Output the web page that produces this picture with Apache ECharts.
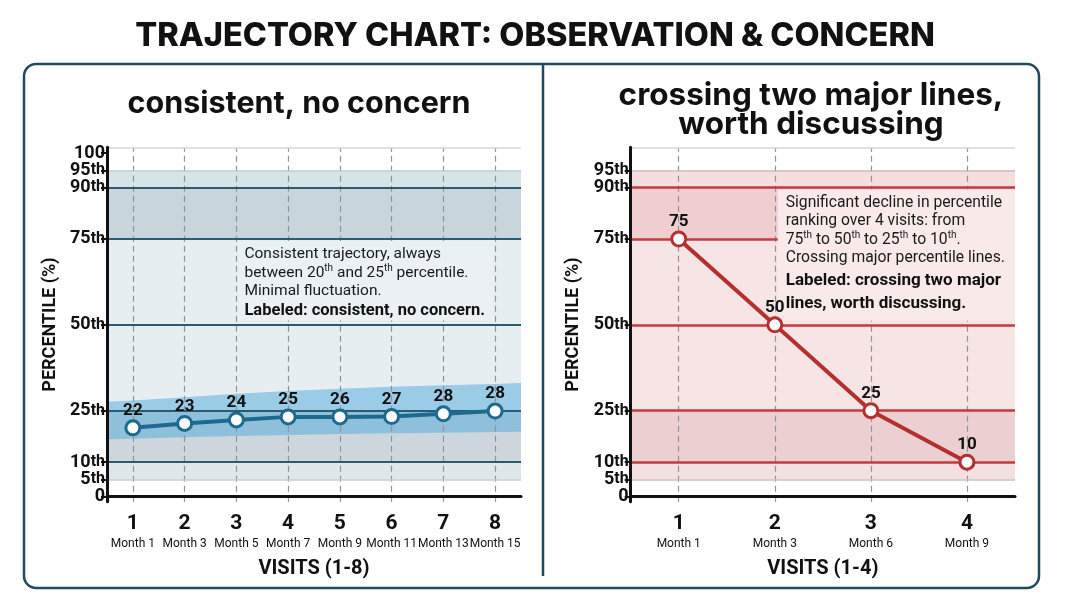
<!DOCTYPE html>
<html><head><meta charset="utf-8">
<script src="https://cdn.jsdelivr.net/npm/echarts@6/dist/echarts.min.js"></script>
<style>html,body{margin:0;padding:0;background:#fff}#c{width:1068px;height:601px}</style>
</head><body><div id="c"></div>
<script>
// ---------- data ----------
const leftVisits = ['1','2','3','4','5','6','7','8'];
const leftMonths = ['Month 1','Month 3','Month 5','Month 7','Month 9','Month 11','Month 13','Month 15'];
const leftValues = [20.0, 21.3, 22.3, 23.2, 23.2, 23.3, 24.1, 24.9];
const leftLabels = ['22','23','24','25','26','27','28','28'];
const bandX = [0.5, 1, 2, 3, 4, 5, 6, 7, 8, 8.5];
const bandUpper = [27.6, 28.0, 28.9, 29.9, 30.7, 31.4, 32.0, 32.4, 32.8, 33.1];
const bandLower = [16.7, 16.8, 17.3, 17.6, 17.9, 18.2, 18.4, 18.6, 18.8, 18.9];

const rightVisits = ['1','2','3','4'];
const rightMonths = ['Month 1','Month 3','Month 6','Month 9'];
const rightValues = [75, 50, 25, 10];
const rightLabels = ['75','50','25','10'];

// y tick labels (split over two overlaid axes so close neighbours are all kept)
const leftYTicksA = [0, 10, 25, 50, 75, 95];
const leftYTicksB = [5, 90, 100];
const rightYTicksA = [0, 10, 25, 50, 75, 95];
const rightYTicksB = [5, 90];
const majorLines = [10, 25, 50, 75, 90];
const minorLines = [5, 95];
const zoneEdges = [5, 10, 25, 75, 90, 95];

const leftNote = [
  ['Consistent trajectory, always'],
  ['between 20', 'th', ' and 25', 'th', ' percentile.'],
  ['Minimal fluctuation.'],
  ['Labeled: consistent, no concern.']
];
const rightNote = [
  ['Significant decline in percentile'],
  ['ranking over 4 visits: from'],
  ['75', 'th', ' to 50', 'th', ' to 25', 'th', ' to 10', 'th', '.'],
  ['Crossing major percentile lines.'],
  ['Labeled: crossing two major'],
  ['lines, worth discussing.']
];

// ---------- styles ----------
const FONT = 'Roboto, "Liberation Sans", sans-serif';
const TFONT = 'Inter, "Open Sans", sans-serif';
const Y_MIN = -1.5, Y_MAX = 101.7;
const leftZoneColors = ['#dfe7eb', '#cdd6dc', '#e7eef2', '#c8d5dc', '#d6e3e7'];
const rightZoneColors = ['#f4e0e0', '#ecd0d1', '#f7e5e5', '#f0cecf', '#f6dede'];

function zones(colors) {
  const out = [];
  for (let i = 0; i < zoneEdges.length - 1; i++) {
    out.push([{ yAxis: zoneEdges[i], itemStyle: { color: colors[i] } }, { yAxis: zoneEdges[i + 1] }]);
  }
  return out;
}
function hLines(majorColor, majorWidth, minorColor) {
  const d = majorLines.map(v => ({ yAxis: v, lineStyle: { color: majorColor, width: majorWidth, type: 'solid' } }));
  minorLines.forEach(v => d.push({ yAxis: v, lineStyle: { color: minorColor, width: 1.5, type: 'solid' } }));
  d.push({ yAxis: Y_MAX, lineStyle: { color: '#d3d8db', width: 1.5, type: 'solid' } });
  return d;
}
function noteText(lines, boldFrom) {
  return lines.map((parts, li) => {
    const b = li >= boldFrom;
    const first = li === boldFrom;
    return parts.map((p, pi) => {
      const sup = pi % 2 === 1;
      const style = sup ? (b ? 'bs' : 's') : (b ? (first ? 'b1' : 'b') : 'r');
      return '{' + style + '|' + p + '}';
    }).join('');
  }).join('\n');
}
function noteRich(size, bsize, lh, b1lh, blh) {
  return {
    r: { fontFamily: FONT, fontSize: size, color: '#1a1a1a', lineHeight: lh },
    s: { fontFamily: FONT, fontSize: 10, color: '#1a1a1a', lineHeight: 11, verticalAlign: 'top' },
    b1: { fontFamily: FONT, fontSize: bsize, fontWeight: 'bold', color: '#111', lineHeight: b1lh },
    b: { fontFamily: FONT, fontSize: bsize, fontWeight: 'bold', color: '#111', lineHeight: blh },
    bs: { fontFamily: FONT, fontSize: 10.5, fontWeight: 'bold', color: '#111', lineHeight: 11, verticalAlign: 'top' }
  };
}
function yAxisCfg(gridIndex, ticks, primary) {
  const cfg = {
    type: 'value', gridIndex, min: Y_MIN, max: Y_MAX, z: 9, position: 'left',
    axisLine: { show: primary, lineStyle: { color: '#111', width: 3 } },
    axisTick: { show: true, customValues: ticks, length: 6, lineStyle: { color: '#111', width: 2 } },
    axisLabel: {
      customValues: ticks, margin: 2, hideOverlap: false,
      formatter: v => (v === 0 || v === 100) ? '{n|' + v + '}' : '{n|' + v + '}{t|th}',
      rich: {
        n: { fontFamily: FONT, fontWeight: 'bold', fontSize: 18, color: '#111', lineHeight: 14 },
        t: { fontFamily: FONT, fontWeight: 'bold', fontSize: 16, color: '#111', lineHeight: 14 }
      }
    },
    splitLine: { show: false }
  };
  if (primary) {
    Object.assign(cfg, {
      name: 'PERCENTILE (%)', nameLocation: 'middle', nameRotate: 90, nameGap: 48,
      nameTextStyle: { fontFamily: FONT, fontWeight: 'bold', fontSize: 18, color: '#111' }
    });
  }
  return cfg;
}
function xAxisCfg(gridIndex, cats, months, name) {
  return {
    type: 'category', gridIndex, data: cats, z: 3,
    name, nameLocation: 'middle', nameGap: 57,
    nameTextStyle: { fontFamily: FONT, fontWeight: 'bold', fontSize: 20, color: '#111' },
    axisLine: { lineStyle: { color: '#111', width: 3 } },
    axisTick: { alignWithLabel: true, length: 8, lineStyle: { color: '#111', width: 2 } },
    axisLabel: {
      margin: 10, interval: 0, hideOverlap: false,
      formatter: (v, i) => '{n|' + v + '}\n{m|' + months[i] + '}',
      rich: {
        n: { fontFamily: FONT, fontWeight: 'bold', fontSize: 21, color: '#111', lineHeight: 24 },
        m: { fontFamily: FONT, fontSize: 12, color: '#111', lineHeight: 16 }
      }
    },
    splitLine: { show: false }
  };
}
function vGrid(cats) {
  return {
    silent: true, symbol: ['none', 'none'], z: 3, label: { show: false },
    lineStyle: { color: '#8e9599', type: [6, 4], width: 1.2 },
    data: cats.map(c => ({ xAxis: c }))
  };
}
function lineSeries(xi, yi, values, labels, color) {
  return {
    type: 'line', xAxisIndex: xi, yAxisIndex: yi, data: values, z: 10,
    symbol: 'circle', symbolSize: 14,
    lineStyle: { color, width: 4 },
    itemStyle: { color: '#fff', borderColor: color, borderWidth: 3 },
    label: {
      show: true, position: 'top', distance: 0,
      formatter: p => labels[p.dataIndex],
      fontFamily: FONT, fontWeight: 'bold', fontSize: 17, color: '#111'
    }
  };
}

const option = {
  animation: false,
  backgroundColor: '#fff',
  grid: [
    { left: 107, right: 547, top: 147.3, bottom: 99.3 },
    { left: 630.7, right: 53, top: 147.3, bottom: 99.3 }
  ],
  xAxis: [
    xAxisCfg(0, leftVisits, leftMonths, 'VISITS (1-8)'),
    xAxisCfg(1, rightVisits, rightMonths, 'VISITS (1-4)'),
    { type: 'value', gridIndex: 0, min: 0.5, max: leftVisits.length + 0.5, show: false },
    { type: 'value', gridIndex: 1, min: 0.5, max: rightVisits.length + 0.5, show: false }
  ],
  yAxis: [
    yAxisCfg(0, leftYTicksA, true),
    yAxisCfg(1, rightYTicksA, true),
    yAxisCfg(0, leftYTicksB, false),
    yAxisCfg(1, rightYTicksB, false)
  ],
  series: [
    // left background zones + percentile lines
    {
      type: 'line', xAxisIndex: 2, yAxisIndex: 0, data: [], silent: true,
      markArea: { silent: true, z: 1, label: { show: false }, data: zones(leftZoneColors) },
      markLine: { silent: true, symbol: ['none', 'none'], z: 5, label: { show: false }, data: hLines('#2a5b70', 2, '#c3ced3') }
    },
    // left percentile channel around the trajectory
    {
      type: 'custom', xAxisIndex: 2, yAxisIndex: 0, z: 2, silent: true,
      data: bandX.map((x, i) => [x, bandLower[i], bandUpper[i]]),
      encode: { x: 0, y: [1, 2] },
      renderItem: (params, api) => {
        if (params.dataIndex !== 0) return null;
        const top = bandX.map((x, i) => api.coord([x, bandUpper[i]]));
        const bot = bandX.map((x, i) => api.coord([x, bandLower[i]])).reverse();
        return { type: 'polygon', shape: { points: top.concat(bot) }, style: { fill: 'rgba(80,170,220,0.5)' } };
      }
    },
    // left annotation box
    {
      type: 'line', xAxisIndex: 2, yAxisIndex: 0, data: [], silent: true,
      markArea: {
        silent: true, z: 6,
        itemStyle: { color: '#eaf0f3' },
        label: {
          show: true, position: 'insideTopLeft', distance: 0, padding: [4, 0, 0, 6],
          formatter: noteText(leftNote, 3), rich: noteRich(15.5, 16.5, 18.5, 20, 20)
        },
        data: [[{ xAxis: 3.04, yAxis: 74.4 }, { xAxis: 7.96, yAxis: 51.3 }]]
      }
    },
    Object.assign(lineSeries(0, 0, leftValues, leftLabels, '#1e6a8f'), { markLine: vGrid(leftVisits) }),

    // right panel
    {
      type: 'line', xAxisIndex: 3, yAxisIndex: 1, data: [], silent: true,
      markArea: { silent: true, z: 1, label: { show: false }, data: zones(rightZoneColors) },
      markLine: { silent: true, symbol: ['none', 'none'], z: 5, label: { show: false }, data: hLines('#c23b40', 2.5, '#cbbfc0') }
    },
    {
      type: 'line', xAxisIndex: 3, yAxisIndex: 1, data: [], silent: true,
      markArea: {
        silent: true, z: 6,
        itemStyle: { color: '#f9e9e9' },
        label: {
          show: true, position: 'insideTopLeft', distance: 0, padding: [4, 0, 0, 8],
          formatter: noteText(rightNote, 4), rich: noteRich(15.7, 17, 18.5, 26, 20)
        },
        data: [[{ xAxis: 2.03, yAxis: 89.4 }, { xAxis: 4.5, yAxis: 51.2 }]]
      }
    },
    Object.assign(lineSeries(1, 1, rightValues, rightLabels, '#b3302f'), { markLine: vGrid(rightVisits) })
  ],
  graphic: [
    { type: 'rect', z: 0, shape: { x: 24, y: 64, width: 1015, height: 524, r: 12 },
      style: { fill: 'none', stroke: '#1f4b5c', lineWidth: 2.5 } },
    { type: 'line', z: 0, shape: { x1: 543, y1: 64, x2: 543, y2: 576 },
      style: { stroke: '#1f4b5c', lineWidth: 2.5 } },
    { type: 'text', x: 535, y: 36, style: { text: 'TRAJECTORY CHART: OBSERVATION & CONCERN', textAlign: 'center', textVerticalAlign: 'middle',
      font: '800 32.5px ' + TFONT, fill: '#111' } },
    { type: 'text', x: 299, y: 104, style: { text: 'consistent, no concern', textAlign: 'center', textVerticalAlign: 'middle',
      font: '700 30.5px ' + TFONT, fill: '#111' } },
    { type: 'text', x: 811, y: 110, style: { text: 'crossing two major lines,\nworth discussing', textAlign: 'center', textVerticalAlign: 'middle',
      font: '700 31.5px ' + TFONT, lineHeight: 29, fill: '#111' } }
  ]
};
const chart = echarts.init(document.getElementById('c'), null, { renderer: 'canvas' });
chart.setOption(option);
</script></body></html>
